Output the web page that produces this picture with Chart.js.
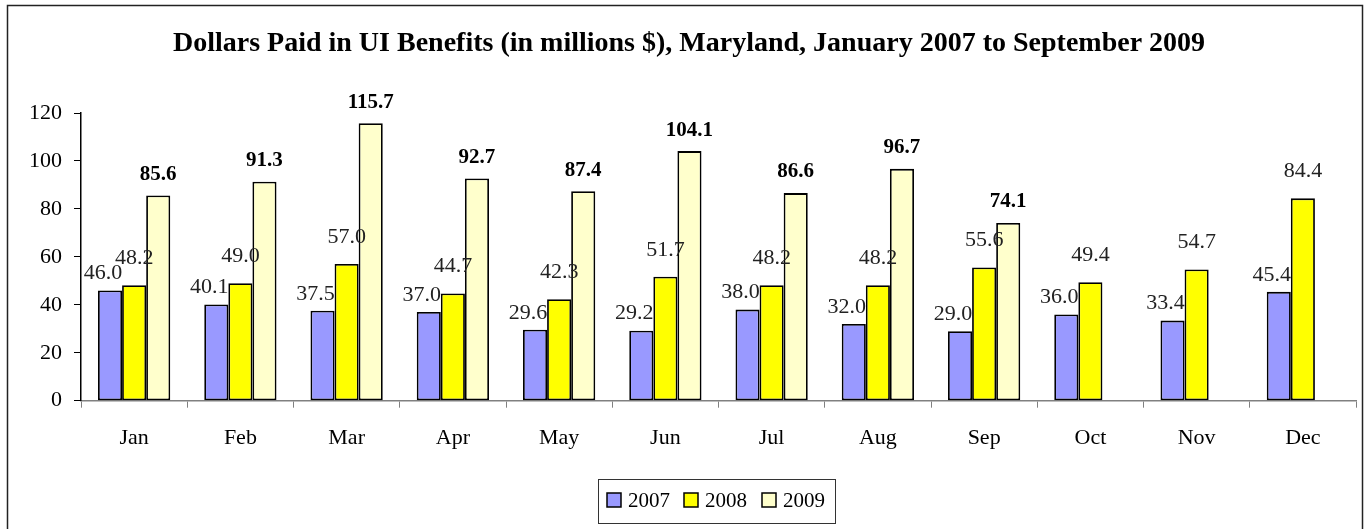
<!DOCTYPE html>
<html lang="en">
<head>
  <meta charset="UTF-8">
  <title>UI Benefits Maryland</title>
  <script src="https://cdn.jsdelivr.net/npm/chart.js"></script>
  <style>
    html, body { margin: 0; padding: 0; background: #fff; }
    #wrap { width: 1372px; height: 529px; }
  </style>
</head>
<body>
  <div id="wrap"><canvas id="myChart" width="1372" height="529"></canvas></div>
  <script>
    // data
    const months = ['Jan', 'Feb', 'Mar', 'Apr', 'May', 'Jun', 'Jul', 'Aug', 'Sep', 'Oct', 'Nov', 'Dec'];
    const y2007 = [46.0, 40.1, 37.5, 37.0, 29.6, 29.2, 38.0, 32.0, 29.0, 36.0, 33.4, 45.4];
    const y2008 = [48.2, 49.0, 57.0, 44.7, 42.3, 51.7, 48.2, 48.2, 55.6, 49.4, 54.7, 84.4];
    const y2009 = [85.6, 91.3, 115.7, 92.7, 87.4, 104.1, 86.6, 96.7, 74.1, null, null, null];
    const seriesNames = ['2007', '2008', '2009'];
    const colors = ['#9999FF', '#FFFF00', '#FFFFCC'];

    const SERIF = '"Liberation Serif", "Times New Roman", serif';

    // frame, title, legend and value labels drawn by hand
    const extras = {
      id: 'extras',
      beforeDraw(chart) {
        const c = chart.ctx;
        c.save();
        c.fillStyle = '#fff';
        c.fillRect(0, 0, chart.width, chart.height);
        c.strokeStyle = '#222';
        c.lineWidth = 1.5;
        c.strokeRect(7.5, 5.5, 1355, 600);
        c.fillStyle = '#000';
        c.font = 'bold 28px ' + SERIF;
        c.textAlign = 'center';
        c.textBaseline = 'alphabetic';
        c.fillText('Dollars Paid in UI Benefits (in millions $), Maryland, January 2007 to September 2009', 689, 51);
        c.restore();
      },
      afterDatasetsDraw(chart) {
        const c = chart.ctx;
        c.save();
        c.textAlign = 'center';
        c.textBaseline = 'middle';
        chart.data.datasets.forEach((ds, di) => {
          const meta = chart.getDatasetMeta(di);
          meta.data.forEach((bar, i) => {
            const v = ds.data[i];
            if (v == null) return;
            let dx = 0, dy = 0;
            if (di === 0) { c.font = '22px ' + SERIF; c.fillStyle = '#222'; dx = -7; dy = -17; }
            else if (di === 1) { c.font = '22px ' + SERIF; c.fillStyle = '#222'; dx = 0; dy = -27; }
            else { c.font = 'bold 21px ' + SERIF; c.fillStyle = '#000'; dx = 0; dy = -21; }
            c.fillText(v.toFixed(1), bar.x + dx, bar.y + dy);
          });
        });
        c.restore();
      },
      afterDraw(chart) {
        const c = chart.ctx;
        c.save();
        c.strokeStyle = '#333';
        c.lineWidth = 1;
        c.strokeRect(598.5, 479.5, 237, 44);
        const xs = [607, 684, 762];
        c.font = '21px ' + SERIF;
        c.textAlign = 'left';
        c.textBaseline = 'middle';
        seriesNames.forEach((n, i) => {
          c.fillStyle = colors[i];
          c.fillRect(xs[i], 493, 14, 14);
          c.strokeStyle = '#000';
          c.lineWidth = 1.5;
          c.strokeRect(xs[i], 493, 14, 14);
          c.fillStyle = '#000';
          c.fillText(n, xs[i] + 21, 501);
        });
        c.restore();
      }
    };

    const ctx = document.getElementById('myChart').getContext('2d');
    new Chart(ctx, {
      type: 'bar',
      data: {
        labels: months,
        datasets: [y2007, y2008, y2009].map((d, i) => ({
          label: seriesNames[i],
          data: d,
          backgroundColor: colors[i],
          borderColor: '#000',
          borderWidth: 1.8,
          borderSkipped: false,
          categoryPercentage: 0.68,
          barPercentage: 1.0
        }))
      },
      options: {
        responsive: false,
        animation: false,
        layout: { padding: { top: 113, right: 16, left: 0, bottom: 0 } },
        plugins: {
          legend: { display: false },
          title: { display: false },
          tooltip: { enabled: false }
        },
        scales: {
          x: {
            afterFit(s) { s.height = 128.3; },
            grid: { drawOnChartArea: false, drawTicks: true, tickLength: 7, color: '#808080', offset: true },
            border: { color: '#808080', width: 1.5 },
            ticks: { color: '#000', font: { family: SERIF, size: 22 }, padding: 17, maxRotation: 0 }
          },
          y: {
            min: 0, max: 120,
            afterFit(s) { s.width = 81; },
            grid: { drawOnChartArea: false, drawTicks: true, tickLength: 7, color: '#000' },
            border: { color: '#000', width: 1.5 },
            ticks: { stepSize: 20, color: '#000', font: { family: SERIF, size: 22 }, padding: 12 }
          }
        }
      },
      plugins: [extras]
    });
  </script>
</body>
</html>
